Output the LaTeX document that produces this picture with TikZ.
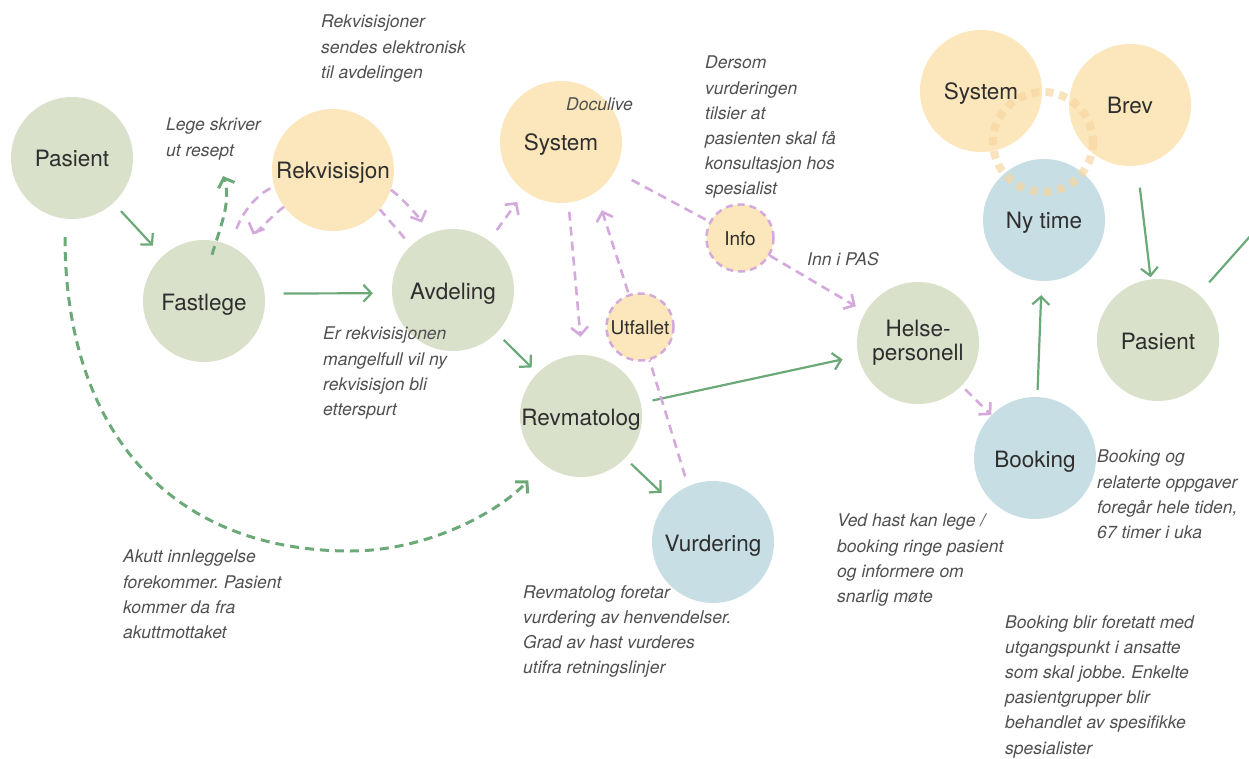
\documentclass[tikz,border=0pt]{standalone}
\usepackage{fontspec}
\setmainfont{TeX Gyre Heros}
\usepackage{xcolor}
\usepackage{tikz}
\usetikzlibrary{arrows.meta, calc}
\frenchspacing

\definecolor{grnfill}{HTML}{D9E1CB}
\definecolor{orgfill}{HTML}{FBE7BB}
\definecolor{blufill}{HTML}{C7DFE4}
\definecolor{grnline}{HTML}{6BA978}
\definecolor{lilac}{HTML}{D3AADB}
\definecolor{ringcol}{HTML}{F7D6A2}
\definecolor{labeltxt}{HTML}{2E2E2E}
\definecolor{notetxt}{HTML}{505050}

\begin{document}
\begin{tikzpicture}[x=1pt, y=-1pt,
  circ/.style={circle, minimum size=122pt, inner sep=0pt, text=labeltxt, text height=18pt, text depth=0pt, font=\fontsize{22.5}{24}\selectfont},
  grn/.style={circ, fill=grnfill},
  org/.style={circ, fill=orgfill},
  blu/.style={circ, fill=blufill},
  small/.style={circle, minimum size=67pt, inner sep=0pt, fill=orgfill, draw=lilac, line width=2.5pt, dash pattern=on 7pt off 5pt, text=labeltxt, text height=14pt, text depth=0pt, font=\fontsize{19}{22}\selectfont},
  note/.style={anchor=north west, align=left, inner sep=0pt, text=notetxt, font=\fontsize{17.5}{25.2}\selectfont\itshape},
  flow/.style={draw=grnline, line width=2.2pt, -{Straight Barb[length=8pt,width=17pt]}},
  flowdash/.style={flow, line width=3pt, dash pattern=on 9pt off 6pt},
  link/.style={draw=lilac, line width=2.6pt, dash pattern=on 9pt off 6pt},
  linkarr/.style={link, -{Straight Barb[length=8pt,width=17pt]}},
  ring/.style={draw=ringcol, draw opacity=0.7, line width=8pt, dash pattern=on 8pt off 6pt}]
\useasboundingbox (0,0) rectangle (1249,759);
\clip (0,0) rectangle (1249,759);

\node[grn] (pasL) at (72,158) {Pasient};
\node[grn] (fastlege) at (204,301) {Fastlege};
\node[org] (rekv) at (333,170) {Rekvisisjon};
\node[grn] (avdeling) at (453,290) {Avdeling};
\node[org] (system) at (561,142) {System};
\node[grn] (revmatolog) at (581,416) {Revmatolog};
\node[blu] (vurdering) at (713,542) {Vurdering};
\node[grn, align=center, text height={}, text depth={}] (helse) at (918,343) {Helse-\\personell};
\node[blu] (booking) at (1035,458) {Booking};
\node[grn] (pasR) at (1158,340) {Pasient};
\node[blu] (nytime) at (1044,220) {Ny time};
\node[org] (sysR) at (981,91) {System};
\node[org] (brev) at (1130,105) {Brev};
\node[small] (info) at (740,238) {Info};
\node[small] (utfallet) at (640,327) {Utfallet};

\draw[ring] (1043,142) circle (50);

\draw[flow, shorten <=11pt, shorten >=14pt] (pasL) -- (fastlege);
\draw[flow, shorten <=19pt, shorten >=19pt] (fastlege.7) -- (avdeling.183);
\draw[flow, shorten <=10pt, shorten >=8pt] (avdeling) -- (revmatolog);
\draw[flow, shorten <=8pt, shorten >=10pt] (revmatolog) -- (vurdering);
\draw[flow, shorten <=12pt, shorten >=16pt] (revmatolog) -- (helse);
\draw[flow, shorten <=7pt, shorten >=14pt] (booking) -- (nytime);
\draw[flow, shorten <=22pt, shorten >=2pt] (brev) -- (pasR);
\coordinate (offR) at (1300,180);
\draw[flow, -, shorten <=16pt] (pasR) -- (offR);

\coordinate (resept) at (223,176);
\draw[flowdash] ($(fastlege.north)+(8,15)$) .. controls +(8,-27) and +(9,24) .. (resept);
\coordinate (akuttBunn) at (350,551);
\draw[flowdash, shorten >=22pt] ($(pasL.south)+(-7,18)$) .. controls +(0,193) and +(-180,0) .. (akuttBunn)
  .. controls +(80,0) and +(-43,46) .. (revmatolog.232);

\draw[linkarr, shorten >=22pt] (rekv.217) .. controls +(-12,8) and +(6,-14) .. (fastlege.49);
\draw[link, shorten <=18pt] (fastlege.64) .. controls +(10,-30) and +(-18,6) .. (rekv.196);
\draw[linkarr, shorten >=13pt] (rekv.-19) .. controls +(12,8) and +(-6,-14) .. (avdeling.115);
\draw[link, shorten <=10pt] (avdeling.136) .. controls +(-6,-12) and +(8,10) .. (rekv.-40);
\draw[linkarr, shorten <=13pt, shorten >=13pt] (avdeling) -- (system);
\draw[linkarr, shorten <=9pt, shorten >=18pt] (system.-83) -- (revmatolog.89);
\draw[linkarr, shorten <=2pt, shorten >=19pt] (utfallet.109) -- (system.-55);
\draw[link, shorten <=10pt] (vurdering.114) -- (utfallet.-74);
\draw[link, shorten <=19pt] (system) -- (info);
\draw[linkarr, shorten >=11pt] (info) -- (helse);
\draw[linkarr, shorten <=5pt] (helse) -- (booking);

\node[note] (rekvNote) at (321,15) {Rekvisisjoner\\sendes elektronisk\\til avdelingen};
\node[note] (reseptNote) at (166,118) {Lege skriver\\ut resept};
\node[note] (doculive) at (566,98) {Doculive};
\node[note] (dersomNote) at (705,56) {Dersom\\vurderingen\\tilsier at\\pasienten skal få\\konsultasjon hos\\spesialist};
\node[note] (pasNote) at (807,252) {Inn i PAS};
\node[note] (mangelNote) at (323,327) {Er rekvisisjonen\\mangelfull vil ny\\rekvisisjon bli\\etterspurt};
\node[note] (akuttNote) at (123,550) {Akutt innleggelse\\forekommer. Pasient\\kommer da fra\\akuttmottaket};
\node[note] (vurdNote) at (523,585) {Revmatolog foretar\\vurdering av henvendelser.\\Grad av hast vurderes\\utifra retningslinjer};
\node[note] (hastNote) at (837,514) {Ved hast kan lege /\\booking ringe pasient\\og informere om\\snarlig møte};
\node[note] (bookNote) at (1097,450) {Booking og\\relaterte oppgaver\\foregår hele tiden,\\67 timer i uka};
\node[note] (ansattNote) at (1005,615) {Booking blir foretatt med\\utgangspunkt i ansatte\\som skal jobbe. Enkelte\\pasientgrupper blir\\behandlet av spesifikke\\spesialister};
\end{tikzpicture}
\end{document}
